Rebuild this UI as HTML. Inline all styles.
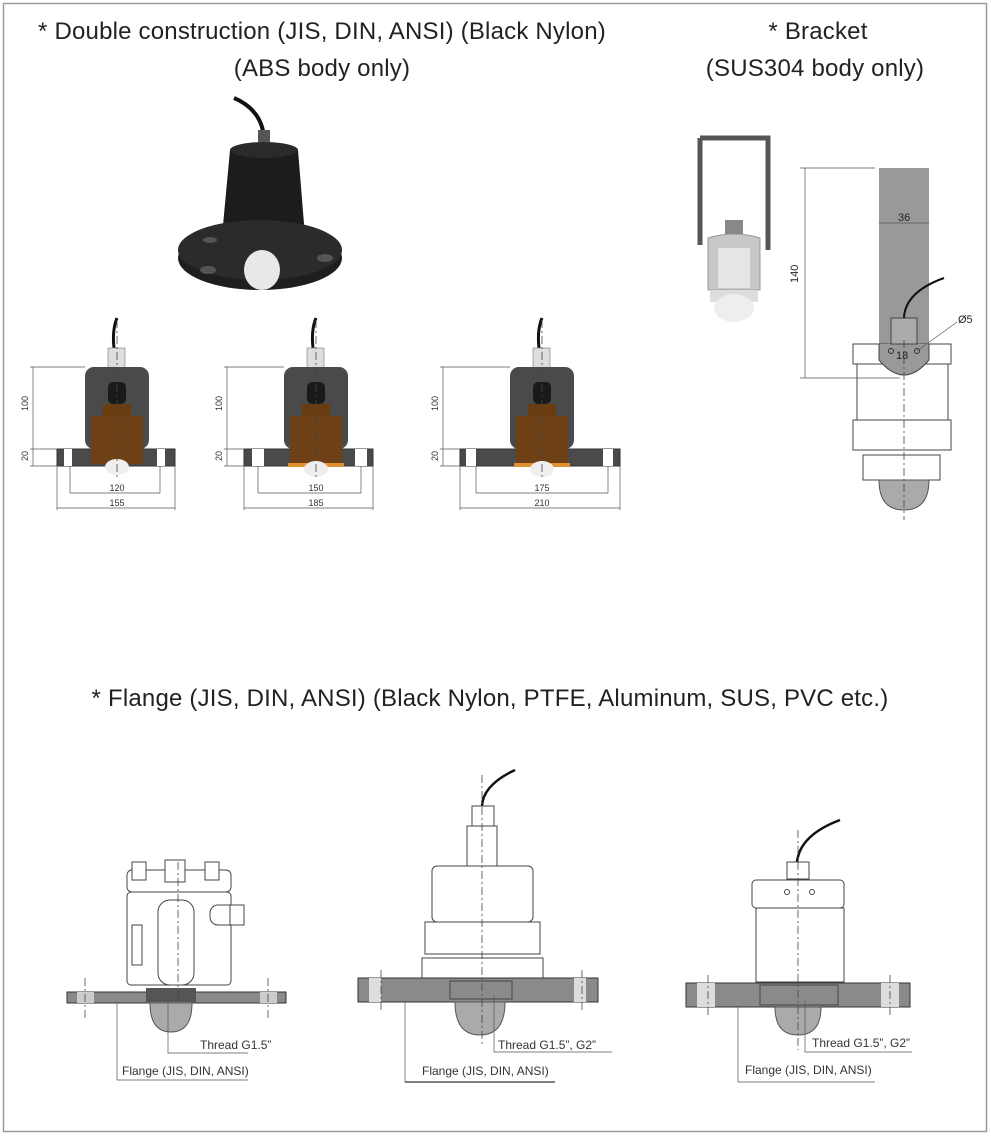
<!DOCTYPE html>
<html><head><meta charset="utf-8"><style>
html,body{margin:0;padding:0;background:#fff}
svg{display:block}
text{font-family:"Liberation Sans",sans-serif}
.t{font-size:24px;fill:#222;letter-spacing:0.2px}
.s{font-size:9px;fill:#333}
.l{font-size:12px;fill:#333}
.o{fill:#fff;stroke:#444;stroke-width:1}
.d{stroke:#555;stroke-width:.7;fill:none}
.c{stroke:#444;stroke-width:.8;stroke-dasharray:8 3 2 3;fill:none}
</style></head><body>
<svg width="991" height="1136" viewBox="0 0 991 1136" xmlns="http://www.w3.org/2000/svg">
<rect x="3.5" y="3.5" width="983" height="1128" fill="#fff" stroke="#9a9a9a" stroke-width="1.5"/>
<text class="t" x="322" y="39" text-anchor="middle">* Double construction (JIS, DIN, ANSI) (Black Nylon)</text>
<text class="t" x="322" y="76" text-anchor="middle">(ABS body only)</text>
<text class="t" x="818" y="39" text-anchor="middle">* Bracket</text>
<text class="t" x="815" y="76" text-anchor="middle">(SUS304 body only)</text>
<text class="t" x="490" y="706" text-anchor="middle">* Flange (JIS, DIN, ANSI) (Black Nylon, PTFE, Aluminum, SUS, PVC etc.)</text>

<path d="M234 98 Q262 110 264 138" stroke="#111" stroke-width="4" fill="none"/>
<rect x="258" y="130" width="12" height="12" fill="#555"/>
<path d="M230 150 Q264 136 298 150 L305 236 L222 236 Z" fill="#1c1c1c"/>
<ellipse cx="264" cy="150" rx="34" ry="8" fill="#2a2a2a"/>
<ellipse cx="260" cy="258" rx="82" ry="32" fill="#1e1e1e"/>
<ellipse cx="260" cy="250" rx="82" ry="30" fill="#2b2b2b"/>
<ellipse cx="208" cy="270" rx="8" ry="4" fill="#555"/><ellipse cx="325" cy="258" rx="8" ry="4" fill="#555"/>
<ellipse cx="210" cy="240" rx="7" ry="3" fill="#555"/>
<ellipse cx="262" cy="270" rx="18" ry="20" fill="#e8e8e8"/>

<g>
<path d="M117 318 Q112 330 114 348" stroke="#111" stroke-width="3" fill="none"/>
<rect x="108" y="348" width="17" height="20" fill="#ddd" stroke="#777" stroke-width=".6"/>
<rect x="85" y="367" width="64" height="82" rx="9" fill="#4a4a4a"/>
<rect x="57" y="449" width="118" height="17" fill="#4a4a4a" stroke="#333"/>
<rect x="64" y="449" width="8" height="17" fill="#fff"/><rect x="157" y="449" width="8" height="17" fill="#fff"/>
<rect x="108" y="382" width="18" height="22" rx="5" fill="#1a1a1a"/>
<rect x="103" y="404" width="28" height="12" fill="#6a3d10"/>
<rect x="91" y="416" width="52" height="48" fill="#6e4015"/>
<ellipse cx="117" cy="467" rx="12" ry="8" fill="#eee"/>
<path class="c" d="M117 320 V480"/>
<path class="d" d="M30 367 H85 M30 449 H57 M30 466 H57 M33 367 V466 M70 466 V493 M160 466 V493 M57 466 V510 M175 466 V510 M70 493 H160 M57 508 H175"/>
<text class="s" x="28" y="411" transform="rotate(-90 28 411)">100</text>
<text class="s" x="28" y="461" transform="rotate(-90 28 461)">20</text>
<text class="s" x="117" y="491" text-anchor="middle">120</text>
<text class="s" x="117" y="506" text-anchor="middle">155</text>

<path d="M316 318 Q311 330 313 348" stroke="#111" stroke-width="3" fill="none"/>
<rect x="307" y="348" width="17" height="20" fill="#ddd" stroke="#777" stroke-width=".6"/>
<rect x="284" y="367" width="64" height="82" rx="9" fill="#4a4a4a"/>
<rect x="244" y="449" width="129" height="17" fill="#4a4a4a" stroke="#333"/>
<rect x="252" y="449" width="12" height="17" fill="#fff"/><rect x="355" y="449" width="12" height="17" fill="#fff"/>
<rect x="307" y="382" width="18" height="22" rx="5" fill="#1a1a1a"/>
<rect x="302" y="404" width="28" height="12" fill="#6a3d10"/>
<rect x="290" y="416" width="52" height="48" fill="#6e4015"/>
<rect x="288" y="463" width="56" height="4" fill="#e09030"/>
<ellipse cx="316" cy="469" rx="12" ry="8" fill="#eee"/>
<path class="c" d="M316 320 V480"/>
<path class="d" d="M224 367 H284 M224 449 H244 M224 466 H244 M227 367 V466 M258 466 V493 M361 466 V493 M244 466 V510 M373 466 V510 M258 493 H361 M244 508 H373"/>
<text class="s" x="222" y="411" transform="rotate(-90 222 411)">100</text>
<text class="s" x="222" y="461" transform="rotate(-90 222 461)">20</text>
<text class="s" x="316" y="491" text-anchor="middle">150</text>
<text class="s" x="316" y="506" text-anchor="middle">185</text>

<path d="M542 318 Q537 330 539 348" stroke="#111" stroke-width="3" fill="none"/>
<rect x="533" y="348" width="17" height="20" fill="#ddd" stroke="#777" stroke-width=".6"/>
<rect x="510" y="367" width="64" height="82" rx="9" fill="#4a4a4a"/>
<rect x="460" y="449" width="160" height="17" fill="#4a4a4a" stroke="#333"/>
<rect x="466" y="449" width="10" height="17" fill="#fff"/><rect x="603" y="449" width="10" height="17" fill="#fff"/>
<rect x="533" y="382" width="18" height="22" rx="5" fill="#1a1a1a"/>
<rect x="528" y="404" width="28" height="12" fill="#6a3d10"/>
<rect x="516" y="416" width="52" height="48" fill="#6e4015"/>
<rect x="514" y="463" width="56" height="4" fill="#e09030"/>
<ellipse cx="542" cy="469" rx="12" ry="8" fill="#eee"/>
<path class="c" d="M542 320 V480"/>
<path class="d" d="M440 367 H510 M440 449 H460 M440 466 H460 M443 367 V466 M476 466 V493 M608 466 V493 M460 466 V510 M620 466 V510 M476 493 H608 M460 508 H620"/>
<text class="s" x="438" y="411" transform="rotate(-90 438 411)">100</text>
<text class="s" x="438" y="461" transform="rotate(-90 438 461)">20</text>
<text class="s" x="542" y="491" text-anchor="middle">175</text>
<text class="s" x="542" y="506" text-anchor="middle">210</text>
</g>

<path d="M700 138 H768 V250 M700 138 V245" stroke="#555" stroke-width="5" fill="none"/>
<rect x="725" y="220" width="18" height="18" fill="#888"/>
<path d="M708 238 Q734 230 760 238 L760 290 L708 290 Z" fill="#c8c8c8" stroke="#999"/>
<rect x="710" y="290" width="48" height="12" fill="#ddd"/>
<ellipse cx="734" cy="308" rx="20" ry="14" fill="#eee"/>
<rect x="718" y="248" width="32" height="40" fill="#e5e5e5"/>

<rect x="879" y="168" width="50" height="210" fill="#999"/>
<path d="M853 344 H951 V364 H853 Z" class="o"/>
<path d="M857 364 H948 V420 H857 Z" class="o"/>
<path d="M853 420 H951 V450 H853 Z" class="o"/>
<path d="M863 455 H940 V480 H863 Z" class="o"/>
<path d="M879 480 Q879 510 904 510 Q929 510 929 480 Z" fill="#aaa" stroke="#555"/>
<path d="M879 344 V360 Q904 390 929 360 V344" fill="#999" stroke="#444"/>
<rect x="891" y="318" width="26" height="26" fill="#aaa" stroke="#444"/>
<path d="M904 318 Q905 292 944 278" stroke="#111" stroke-width="2" fill="none"/>
<circle cx="891" cy="351" r="2.5" fill="none" stroke="#333"/><circle cx="917" cy="351" r="2.5" fill="none" stroke="#333"/>
<path class="c" d="M904 340 V520"/>
<path class="d" d="M800 168 H875 M800 378 H900 M805 168 V378 M879 223 H929 M917 351 L957 322"/>
<text x="798" y="283" font-size="11" fill="#222" transform="rotate(-90 798 283)">140</text>
<text x="898" y="221" font-size="11" fill="#222">36</text>
<text x="896" y="359" font-size="11" fill="#222">18</text>
<text x="958" y="323" font-size="11" fill="#222">Ø5</text>

<rect x="127" y="870" width="104" height="22" rx="5" class="o"/>
<rect x="132" y="862" width="14" height="18" class="o"/><rect x="165" y="860" width="20" height="22" class="o"/><rect x="205" y="862" width="14" height="18" class="o"/>
<rect x="127" y="892" width="104" height="93" rx="4" class="o"/>
<rect x="158" y="900" width="36" height="85" rx="12" class="o"/>
<rect x="132" y="925" width="10" height="40" class="o"/>
<rect x="210" y="905" width="26" height="20" rx="8" class="o"/><rect x="230" y="905" width="14" height="20" class="o"/>
<rect x="67" y="992" width="219" height="11" fill="#8a8a8a" stroke="#333"/>
<rect x="77" y="992" width="17" height="11" fill="#ccc"/><rect x="260" y="992" width="17" height="11" fill="#ccc"/>
<rect x="146" y="988" width="50" height="14" fill="#555"/>
<path d="M150 1003 Q150 1032 171 1032 Q192 1032 192 1003 Z" fill="#aaa" stroke="#555"/>
<path class="c" d="M85 978 V1018 M268 978 V1018 M178 862 V1000"/>
<path class="d" d="M117 1003 V1080 H248 M168 1003 V1053 H248"/>
<text class="l" x="200" y="1049" font-size="11">Thread G1.5”</text>
<text class="l" x="122" y="1075" font-size="11">Flange (JIS, DIN, ANSI)</text>

<path d="M482 806 Q483 785 515 770" stroke="#111" stroke-width="2.5" fill="none"/>
<rect x="472" y="806" width="22" height="20" class="o"/>
<rect x="467" y="826" width="30" height="40" class="o"/>
<rect x="432" y="866" width="101" height="56" rx="5" class="o"/>
<rect x="425" y="922" width="115" height="32" class="o"/>
<rect x="422" y="958" width="121" height="20" class="o"/>
<rect x="358" y="978" width="240" height="24" fill="#8a8a8a" stroke="#333"/>
<rect x="369" y="978" width="12" height="24" fill="#ddd"/><rect x="574" y="978" width="12" height="24" fill="#ddd"/>
<rect x="450" y="981" width="62" height="18" fill="none" stroke="#444"/>
<path d="M455 1002 Q455 1035 480 1035 Q505 1035 505 1002 Z" fill="#aaa" stroke="#555"/>
<path class="c" d="M381 970 V1012 M582 970 V1012 M482 775 V1045"/>
<path class="d" d="M405 1002 V1082 H555 M494 995 V1052 H612"/>
<text class="l" x="498" y="1049" font-size="11.5">Thread G1.5”, G2”</text>
<text class="l" x="422" y="1075" font-size="11.5">Flange (JIS, DIN, ANSI)</text>
<path d="M405 1082 H555" stroke="#555" stroke-width="1.5"/>

<path d="M797 862 Q800 835 840 820" stroke="#111" stroke-width="2.5" fill="none"/>
<rect x="787" y="862" width="22" height="17" class="o"/>
<rect x="752" y="880" width="92" height="28" rx="4" class="o"/>
<rect x="756" y="908" width="88" height="74" class="o"/>
<circle cx="787" cy="892" r="2.5" class="o"/><circle cx="812" cy="892" r="2.5" class="o"/>
<rect x="686" y="983" width="224" height="24" fill="#8a8a8a" stroke="#333"/>
<rect x="697" y="983" width="18" height="24" fill="#ddd"/><rect x="881" y="983" width="18" height="24" fill="#ddd"/>
<rect x="760" y="985" width="78" height="20" fill="none" stroke="#444"/>
<path d="M775 1007 Q775 1035 798 1035 Q821 1035 821 1007 Z" fill="#aaa" stroke="#555"/>
<path class="c" d="M708 975 V1015 M890 975 V1015 M798 830 V1050"/>
<path class="d" d="M738 1007 V1082 H875 M805 1000 V1052 H912"/>
<text class="l" x="812" y="1047" font-size="11.5">Thread G1.5”, G2”</text>
<text class="l" x="745" y="1074" font-size="11.5">Flange (JIS, DIN, ANSI)</text>
</svg>
</body></html>
